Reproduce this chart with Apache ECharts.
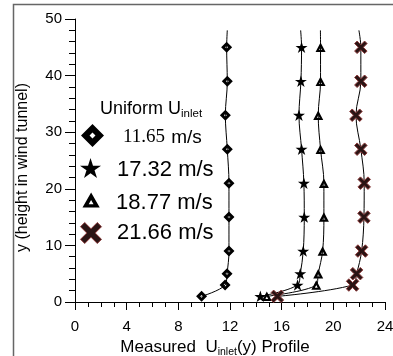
<!DOCTYPE html>
<html>
<head>
<meta charset="utf-8">
<script src="https://cdn.jsdelivr.net/npm/echarts@6/dist/echarts.min.js"></script>
<style>
  html, body { margin: 0; padding: 0; background: #fff; }
  #chart { width: 393px; height: 356px; }
</style>
</head>
<body>
<div id="chart"></div>
<script>
// Measured inlet velocity profiles: height y against U_inlet(y)
const heights = [1, 3, 5, 9, 15, 21, 27, 33, 39, 45, 48]; // the last height closes the traced line (no marker)
const u1165 = [9.8, 11.62, 11.77, 11.92, 11.92, 11.92, 11.79, 11.64, 11.79, 11.74, 11.79];
const u1732 = [14.35, 17.23, 17.44, 17.67, 17.75, 17.72, 17.54, 17.34, 17.49, 17.54, 17.47];
const u1877 = [14.85, 18.68, 18.83, 19.17, 19.27, 19.27, 19.01, 18.83, 19.01, 19.01, 19.0];
const u2166 = [15.67, 21.49, 21.8, 22.19, 22.37, 22.39, 22.13, 21.75, 22.13, 22.13, 21.98];
const seriesNames = ['11.65 m/s', '17.32 m/s', '18.77 m/s', '21.66 m/s'];
const xTicks = { min: 0, max: 24, interval: 4 };
const yTicks = { min: 0, max: 50, interval: 10 };

const SANS = 'Liberation Sans, Arial, Helvetica, sans-serif';
const SERIF = 'Liberation Serif, Times New Roman, serif';

// marker shapes
const DIAMOND = 'path://M50,0 L100,50 L50,100 L0,50 Z M50,37 L37,50 L50,63 L63,50 Z';
const TRIANGLE = 'path://M50,0 L100,87 L0,87 Z M50,44 L36,68 L64,68 Z';
const STAR = 'path://M50,0 L61.23,34.55 L97.55,34.55 L68.17,55.9 L79.39,90.45 L50,69.1 L20.61,90.45 L31.83,55.9 L2.45,34.55 L38.77,34.55 Z';
const CROSS = 'path://M0,20 L20,0 L50,30 L80,0 L100,20 L70,50 L100,80 L80,100 L50,70 L20,100 L0,80 L30,50 Z';

const crossStyle = { color: '#2a1414', borderColor: '#8b3a3a', borderWidth: 1 };

function profile(values) {
  const last = values.length - 1;
  return values.map((u, i) => i === last
    ? { value: [u, heights[i]], symbol: 'none' }
    : [u, heights[i]]);
}

function makeSeries(name, values, symbol, size, itemStyle) {
  return {
    name: name,
    type: 'line',
    data: profile(values),
    smooth: 0.35,
    symbol: symbol,
    symbolSize: size,
    showAllSymbol: true,
    lineStyle: { color: '#000', width: 1 },
    itemStyle: itemStyle,
    emphasis: { disabled: true }
  };
}

function makeLegend(name, icon, left, top, w, h, itemStyle, padding, fmt) {
  return {
    data: [{ name: name, icon: icon }],
    left: left, top: top,
    orient: 'vertical',
    padding: 0,
    itemWidth: w, itemHeight: h,
    selectedMode: false,
    itemStyle: itemStyle,
    formatter: fmt,
    textStyle: {
      fontFamily: SANS, fontSize: 22, color: '#000', lineHeight: Math.min(h, 20),
      padding: padding,
      rich: {
        n: { fontFamily: SERIF, fontSize: 19, color: '#000' },
        u: { fontFamily: SANS, fontSize: 19, color: '#000' }
      }
    }
  };
}

const chart = echarts.init(document.getElementById('chart'), null, { renderer: 'canvas' });

chart.setOption({
  animation: false,
  backgroundColor: '#fff',
  grid: { left: 75, right: 8, top: 19, bottom: 54, containLabel: false, outerBoundsMode: 'none' },
  title: {
    text: '{m|Uniform U}{s|inlet}',
    left: 100, top: 98, padding: 0,
    textStyle: {
      fontWeight: 'normal',
      rich: {
        m: { fontFamily: SANS, fontSize: 18, fontWeight: 'normal', color: '#000', lineHeight: 22 },
        s: { fontFamily: SANS, fontSize: 11.5, fontWeight: 'normal', color: '#000', lineHeight: 8, verticalAlign: 'bottom' }
      }
    }
  },
  legend: [
    makeLegend(seriesNames[0], DIAMOND, 81, 123.5, 23, 23, { color: '#000', borderWidth: 0 }, [4, 0, 0, 14],
      () => '{n|11.65} {u|m/s}'),
    makeLegend(seriesNames[1], STAR, 80, 156, 23, 20, { color: '#000', borderWidth: 0 }, [4, 0, 0, 10]),
    makeLegend(seriesNames[2], TRIANGLE, 82.5, 190, 20, 15, { color: '#000', borderWidth: 0 }, [5, 0, 0, 10]),
    makeLegend(seriesNames[3], CROSS, 80, 222, 24, 21, crossStyle, [0, 0, 0, 9])
  ],
  xAxis: {
    type: 'value',
    min: xTicks.min, max: xTicks.max, interval: xTicks.interval,
    name: '{m|Measured  U}{s|inlet}{m|(y) Profile}',
    nameLocation: 'middle',
    nameGap: 34,
    nameTextStyle: {
      padding: [0, 30, 0, 0],
      rich: {
        m: { fontFamily: SANS, fontSize: 17, color: '#000', lineHeight: 20 },
        s: { fontFamily: SANS, fontSize: 10.5, color: '#000', lineHeight: 4, verticalAlign: 'bottom' }
      }
    },
    axisLine: { show: true, onZero: false, lineStyle: { color: '#000', width: 1 } },
    axisTick: { show: true, inside: false, length: 8, lineStyle: { color: '#000', width: 1 } },
    minorTick: { show: true, splitNumber: 4, length: 5, lineStyle: { color: '#000', width: 1 } },
    splitLine: { show: false },
    minorSplitLine: { show: false },
    axisLabel: { fontFamily: SANS, fontSize: 15, color: '#000', margin: 17 }
  },
  yAxis: {
    type: 'value',
    min: yTicks.min, max: yTicks.max, interval: yTicks.interval,
    name: 'y (height in wind tunnel)',
    nameLocation: 'middle',
    nameGap: 44,
    nameTextStyle: { fontFamily: SANS, fontSize: 16, color: '#000', padding: [0, 14, 0, 0] },
    axisLine: { show: true, onZero: false, lineStyle: { color: '#000', width: 1 } },
    axisTick: { show: true, inside: false, length: 10, lineStyle: { color: '#000', width: 1 } },
    minorTick: { show: true, splitNumber: 5, length: 6, lineStyle: { color: '#000', width: 1 } },
    splitLine: { show: false },
    minorSplitLine: { show: false },
    axisLabel: { fontFamily: SANS, fontSize: 15, color: '#000', margin: 13 }
  },
  graphic: [{
    type: 'rect',
    silent: true,
    z: -1,
    shape: { x: 13.5, y: 4.5, width: 420, height: 420 },
    style: { fill: 'none', stroke: '#666', lineWidth: 1.5 }
  }],
  series: [
    makeSeries(seriesNames[0], u1165, DIAMOND, 11, { color: '#000', borderWidth: 0 }),
    makeSeries(seriesNames[1], u1732, STAR, [12, 11.5], { color: '#000', borderWidth: 0 }),
    makeSeries(seriesNames[2], u1877, TRIANGLE, [10, 9.5], { color: '#000', borderWidth: 0 }),
    makeSeries(seriesNames[3], u2166, CROSS, 12.5, crossStyle)
  ]
});
</script>
</body>
</html>
